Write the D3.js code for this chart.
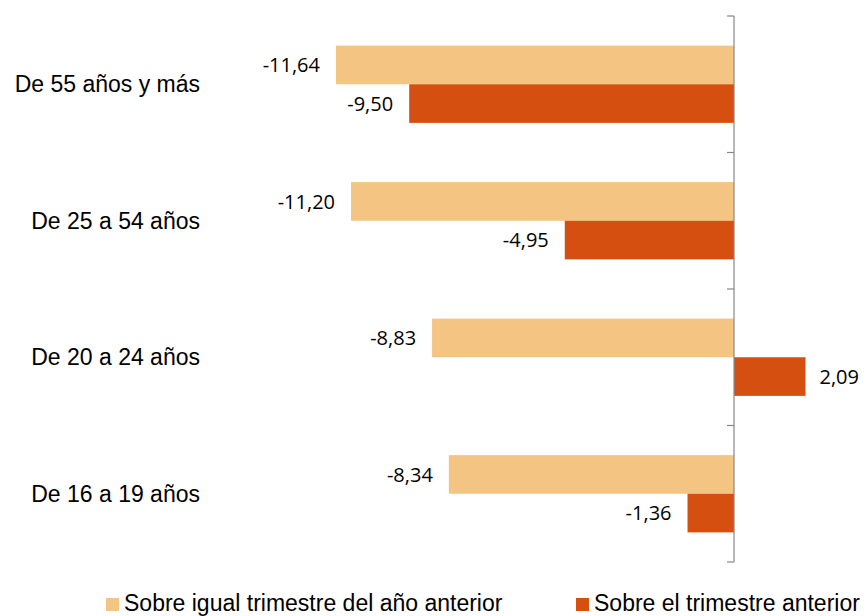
<!DOCTYPE html>
<html>
<head>
<meta charset="utf-8">
<script src="https://cdn.jsdelivr.net/npm/d3@7"></script>
<style>
    body { margin: 0; background: #fff; }
    svg { display: block; }
</style>
</head>
<body>
<svg id="chart" width="866" height="616"></svg>
<script>
// Chart data
const categories = ['De 55 años y más', 'De 25 a 54 años', 'De 20 a 24 años', 'De 16 a 19 años'];
const seriesNames = ['Sobre igual trimestre del año anterior', 'Sobre el trimestre anterior'];
const interanual = [-11.64, -11.20, -8.83, -8.34];
const trimestral = [-9.50, -4.95, 2.09, -1.36];
const colors = ['#F4C482', '#D54F10'];

const svg = d3.select('#chart');

// Scales
const x = d3.scaleLinear()
    .domain([-12, 4])
    .range([323.7, 870.8]);

const y = d3.scaleBand()
    .domain(categories)
    .range([16, 562])
    .paddingInner(0.434)
    .paddingOuter(0.217);

const ySub = d3.scaleBand()
    .domain([0, 1])
    .range([0, y.bandwidth()]);

// Spanish decimal comma, plain hyphen for negatives
const fmt = v => v.toFixed(2).replace('.', ',');

// Rows combining both series
const rows = categories.map((c, i) => ({ cat: c, values: [interanual[i], trimestral[i]] }));

const groups = svg.selectAll('.grp')
    .data(rows)
    .enter().append('g')
    .attr('class', 'grp')
    .attr('transform', d => `translate(0,${y(d.cat)})`);

groups.selectAll('rect')
    .data(d => d.values.map((v, k) => ({ v, k })))
    .enter().append('rect')
    .attr('x', d => x(Math.min(0, d.v)))
    .attr('width', d => Math.abs(x(d.v) - x(0)))
    .attr('y', d => ySub(d.k))
    .attr('height', ySub.bandwidth())
    .attr('fill', d => colors[d.k]);

// Value labels
groups.selectAll('text.val')
    .data(d => d.values.map((v, k) => ({ v, k })))
    .enter().append('text')
    .attr('class', 'val')
    .attr('x', d => d.v < 0 ? x(d.v) - 16 : x(d.v) + 14)
    .attr('y', d => ySub(d.k) + ySub.bandwidth() / 2)
    .attr('dy', '0.36em')
    .attr('text-anchor', d => d.v < 0 ? 'end' : 'start')
    .style('font-family', '"Open Sans", sans-serif')
    .style('font-size', '20px')
    .style('fill', '#000')
    .text(d => fmt(d.v));

// Category axis at zero
const axisG = svg.append('g').attr('transform', `translate(${x(0)},0)`);
axisG.append('line')
    .attr('x1', 0).attr('x2', 0)
    .attr('y1', y.range()[0]).attr('y2', y.range()[1])
    .attr('stroke', '#888').attr('stroke-width', 1.2);

const step = y.step();
const bounds = d3.range(categories.length + 1).map(i => y.range()[0] + i * step);
axisG.selectAll('.tick-b')
    .data(bounds)
    .enter().append('line')
    .attr('x1', -7).attr('x2', 0)
    .attr('y1', d => d).attr('y2', d => d)
    .attr('stroke', '#888').attr('stroke-width', 1.2);

// Category labels
svg.selectAll('.cat')
    .data(categories)
    .enter().append('text')
    .attr('class', 'cat')
    .attr('x', 200)
    .attr('y', d => y(d) + y.bandwidth() / 2)
    .attr('dy', '0.35em')
    .attr('text-anchor', 'end')
    .style('font-family', '"Liberation Sans", Arial, sans-serif')
    .style('font-size', '23px')
    .style('fill', '#000')
    .text(d => d);

// Legend
const legendX = [106, 576];
const legend = svg.selectAll('.legend')
    .data(seriesNames)
    .enter().append('g')
    .attr('class', 'legend')
    .attr('transform', (d, i) => `translate(${legendX[i]},598)`);

legend.append('rect')
    .attr('width', 13)
    .attr('height', 13)
    .attr('fill', (d, i) => colors[i]);

legend.append('text')
    .attr('x', 18)
    .attr('y', 13)
    .style('font-family', '"Liberation Sans", Arial, sans-serif')
    .style('font-size', '23px')
    .style('fill', '#000')
    .text(d => d);
</script>
</body>
</html>
